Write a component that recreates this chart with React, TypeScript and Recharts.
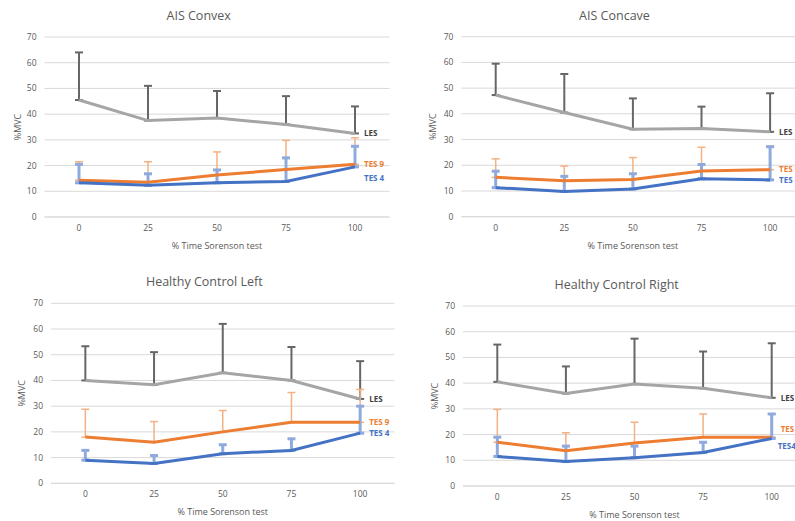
import { LineChart, Line, XAxis, YAxis, CartesianGrid, ErrorBar, LabelList } from 'recharts'

const timePoints = [0, 25, 50, 75, 100]
const yTicks = [0, 10, 20, 30, 40, 50, 60, 70]

// AIS Convex: means and top of the SD bar
const convexLes = [45.5, 37.5, 38.5, 36, 32.5]
const convexLesTop = [64, 51, 49, 47, 43]
const convexTes9 = [14.3, 13.5, 16.3, 18.5, 20.5]
const convexTes9Top = [21.5, 21.5, 25.3, 29.8, 30.8]
const convexTes4 = [13.3, 12.3, 13.3, 13.8, 19.5]
const convexTes4Top = [20.5, 16.8, 18.3, 23, 27.5]

// AIS Concave
const concaveLes = [47.3, 40.5, 34, 34.3, 33]
const concaveLesTop = [59.5, 55.5, 46, 42.8, 48]
const concaveTes9 = [15.3, 14, 14.5, 17.8, 18.3]
const concaveTes9Top = [22.5, 19.7, 23, 27, 27.5]
const concaveTes4 = [11.3, 9.8, 10.8, 14.8, 14.3]
const concaveTes4Top = [17.7, 15.7, 16.7, 20.3, 27.2]

// Healthy Control Left
const leftLes = [40, 38.3, 43, 40, 32.8]
const leftLesTop = [53.3, 51, 62, 53, 47.5]
const leftTes9 = [18, 16, 20, 23.7, 23.7]
const leftTes9Top = [28.8, 24, 28.3, 35.3, 36.5]
const leftTes4 = [9, 7.7, 11.5, 12.8, 19.5]
const leftTes4Top = [12.8, 10.8, 15, 17.3, 30]

// Healthy Control Right
const rightLes = [40.5, 36, 39.7, 38, 34.3]
const rightLesTop = [55, 46.5, 57.3, 52.3, 55.5]
const rightTes9 = [17, 13.7, 16.7, 19, 19]
const rightTes9Top = [29.8, 20.7, 24.8, 28, 28]
const rightTes4 = [11.5, 9.5, 11, 13, 18.5]
const rightTes4Top = [19, 15.5, 15.5, 17, 28]

const GRID = '#d9d9d9'
const TEXT = '#595959'
const FONT = '"Open Sans", "Noto Sans", sans-serif'

const SERIES = [
  { key: 'les', line: '#a5a5a5', bar: '#666666', barWidth: 2, label: '#404040' },
  { key: 'tes9', line: '#ed7d31', bar: '#f4b183', barWidth: 1.5, label: '#ed7d31' },
  { key: 'tes4', line: '#4472c4', bar: '#8faadc', barWidth: 3, label: '#4472c4' },
]

function buildRows(
  les: number[], lesTop: number[],
  tes9: number[], tes9Top: number[],
  tes4: number[], tes4Top: number[],
  tags: string[],
) {
  const last = timePoints.length - 1
  return timePoints.map((t, i) => ({
    t,
    les: les[i],
    lesErr: [0, lesTop[i] - les[i]],
    lesTag: i === last ? tags[0] : undefined,
    tes9: tes9[i],
    tes9Err: [0, tes9Top[i] - tes9[i]],
    tes9Tag: i === last ? tags[1] : undefined,
    tes4: tes4[i],
    tes4Err: [0, tes4Top[i] - tes4[i]],
    tes4Tag: i === last ? tags[2] : undefined,
  }))
}

const panels = [
  {
    title: 'AIS Convex',
    box: { left: 0, top: 0, width: 400, height: 260 },
    titlePos: [198.7, 16],
    plot: { left: 44.5, right: 389.5, top: 37, bottom: 217 },
    chartWidth: 400,
    yTitleX: 17.5,
    tagOffset: { les: [9, 0], tes9: [9, 0], tes4: [9, 11] },
    rows: buildRows(convexLes, convexLesTop, convexTes9, convexTes9Top, convexTes4, convexTes4Top, ['LES', 'TES 9', 'TES 4']),
  },
  {
    title: 'AIS Concave',
    box: { left: 400, top: 0, width: 395, height: 260 },
    titlePos: [214.5, 15.5],
    plot: { left: 61.4, right: 404.4, top: 36.7, bottom: 216.7 },
    chartWidth: 410,
    yTitleX: 33,
    tagOffset: { les: [9, 0], tes9: [9, 0], tes4: [9, 0] },
    rows: buildRows(concaveLes, concaveLesTop, concaveTes9, concaveTes9Top, concaveTes4, concaveTes4Top, ['LES', 'TES 9', 'TES 4']),
  },
  {
    title: 'Healthy Control Left',
    box: { left: 0, top: 260, width: 400, height: 261 },
    titlePos: [204.3, 21.7],
    plot: { left: 51, right: 394.5, top: 43.3, bottom: 223.3 },
    chartWidth: 400,
    yTitleX: 21.7,
    tagOffset: { les: [9, 0], tes9: [9, 0], tes4: [9, 0] },
    rows: buildRows(leftLes, leftLesTop, leftTes9, leftTes9Top, leftTes4, leftTes4Top, ['LES', 'TES 9', 'TES 4']),
  },
  {
    title: 'Healthy Control Right',
    box: { left: 400, top: 260, width: 395, height: 261 },
    titlePos: [216.7, 24.5],
    plot: { left: 63, right: 406, top: 46, bottom: 226 },
    chartWidth: 410,
    yTitleX: 35,
    tagOffset: { les: [9, 0], tes9: [9, -8], tes4: [6, 8] },
    rows: buildRows(rightLes, rightLesTop, rightTes9, rightTes9Top, rightTes4, rightTes4Top, ['LES', 'TES 9', 'TES4']),
  },
]

const CHART_HEIGHT = 270
const X_AXIS_HEIGHT = 40

function Panel({ panel }: { panel: (typeof panels)[number] }) {
  const { box, plot } = panel
  const plotWidth = plot.right - plot.left
  const half = plotWidth / timePoints.length / 2
  return (
    <div
      style={{
        position: 'absolute',
        left: box.left,
        top: box.top,
        width: box.width,
        height: box.height,
        overflow: 'hidden',
      }}
    >
      <div
        style={{
          position: 'absolute',
          left: panel.titlePos[0] - 120,
          top: panel.titlePos[1] - 9,
          width: 240,
          lineHeight: '18px',
          textAlign: 'center',
          fontSize: 12.5,
          color: TEXT,
          fontFamily: FONT,
        }}
      >
        {panel.title}
      </div>
      <LineChart
        width={panel.chartWidth}
        height={CHART_HEIGHT}
        data={panel.rows}
        margin={{
          top: plot.top,
          right: panel.chartWidth - plot.right,
          left: 0,
          bottom: CHART_HEIGHT - plot.bottom - X_AXIS_HEIGHT,
        }}
        style={{ fontFamily: FONT }}
      >
        <CartesianGrid stroke={GRID} vertical={false} />
        <XAxis
          dataKey="t"
          type="category"
          padding={{ left: half, right: half }}
          height={X_AXIS_HEIGHT}
          tick={{ fontSize: 8.5, fill: TEXT }}
          tickLine={false}
          axisLine={{ stroke: GRID }}
          label={{
            value: '% Time Sorenson test',
            position: 'insideBottom',
            offset: 8,
            style: { fontSize: 9, fill: TEXT },
          }}
        />
        <YAxis
          type="number"
          domain={[0, 70]}
          ticks={yTicks}
          width={plot.left}
          tick={{ fontSize: 8.5, fill: TEXT }}
          tickLine={false}
          axisLine={false}
          label={{
            value: '%MVC',
            angle: -90,
            position: 'insideLeft',
            offset: panel.yTitleX,
            style: { fontSize: 9, fill: TEXT, textAnchor: 'middle' },
          }}
        />
        {/* SD bars first, on stroke-less lines, so the visible lines cover the bars' lower caps */}
        {SERIES.map((s) => (
          <Line
            key={`${s.key}-sd`}
            dataKey={s.key}
            stroke="none"
            dot={false}
            activeDot={false}
            legendType="none"
            isAnimationActive={false}
          >
            <ErrorBar
              dataKey={`${s.key}Err`}
              direction="y"
              width={4}
              stroke={s.bar}
              strokeWidth={s.barWidth}
              isAnimationActive={false}
            />
          </Line>
        ))}
        {SERIES.map((s) => {
          const [dx, dy] = panel.tagOffset[s.key as 'les' | 'tes9' | 'tes4']
          return (
            <Line
              key={s.key}
              dataKey={s.key}
              stroke={s.line}
              strokeWidth={3}
              dot={false}
              activeDot={false}
              isAnimationActive={false}
            >
              <LabelList
                dataKey={`${s.key}Tag`}
                content={(p: any) => {
                  if (!p.value) return null
                  const x = p.x ?? p.viewBox?.x
                  const y = p.y ?? p.viewBox?.y
                  return (
                    <text
                      x={x + dx}
                      y={y + dy}
                      dy="0.35em"
                      fontSize={8}
                      fontWeight="bold"
                      fill={s.label}
                      fontFamily={FONT}
                    >
                      {p.value}
                    </text>
                  )
                }}
              />
            </Line>
          )
        })}
      </LineChart>
    </div>
  )
}

export default function App() {
  return (
    <div
      style={{
        position: 'absolute',
        left: 0,
        top: 0,
        width: 795,
        height: 521,
        background: '#fff',
        overflow: 'hidden',
      }}
    >
      {panels.map((p) => (
        <Panel key={p.title} panel={p} />
      ))}
    </div>
  )
}
